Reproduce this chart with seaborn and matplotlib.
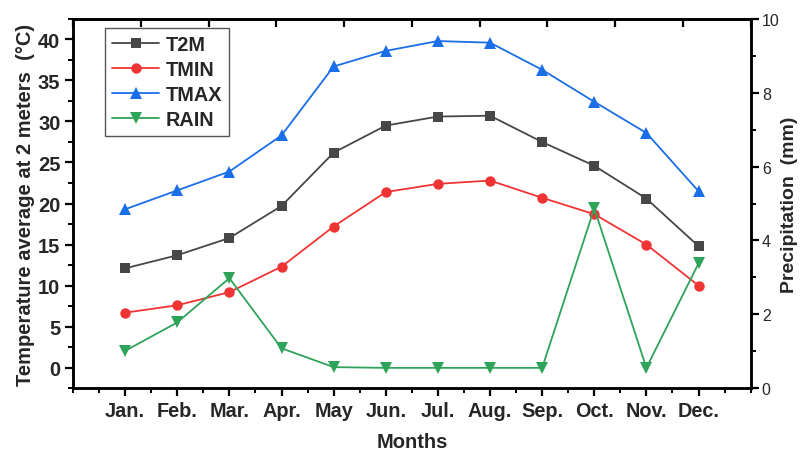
import matplotlib
matplotlib.use("Agg")
import matplotlib.pyplot as plt
import seaborn as sns
import pandas as pd
from matplotlib.ticker import MultipleLocator, FixedLocator, NullFormatter

months = ["Jan.", "Feb.", "Mar.", "Apr.", "May", "Jun.", "Jul.", "Aug.", "Sep.", "Oct.", "Nov.", "Dec."]
t2m = [12.1, 13.7, 15.8, 19.7, 26.2, 29.5, 30.6, 30.7, 27.5, 24.6, 20.6, 14.8]
tmin = [6.7, 7.6, 9.2, 12.3, 17.2, 21.4, 22.4, 22.8, 20.7, 18.7, 15.0, 10.0]
tmax = [19.3, 21.6, 23.9, 28.3, 36.7, 38.6, 39.8, 39.6, 36.3, 32.4, 28.6, 21.5]
rain = [1.01, 1.78, 2.98, 1.08, 0.57, 0.55, 0.55, 0.55, 0.55, 4.87, 0.55, 3.38]

sns.set_theme(style="ticks")
plt.rcParams["font.family"] = ["Liberation Sans", "DejaVu Sans"]

idx = list(range(1, 13))
temp_df = pd.DataFrame({"m": idx * 3,
                        "val": t2m + tmin + tmax,
                        "series": ["T2M"] * 12 + ["TMIN"] * 12 + ["TMAX"] * 12})
rain_df = pd.DataFrame({"m": idx, "val": rain})

colors = {"T2M": "#474747", "TMIN": "#f03434", "TMAX": "#1a6ee6"}
markers = {"T2M": "s", "TMIN": "o", "TMAX": "^"}
msizes = {"T2M": 6.5, "TMIN": 7.5, "TMAX": 8}
rain_color = "#2ea35a"

fig = plt.figure(figsize=(8.02, 4.52), dpi=100)
ax = fig.add_axes([0.091, 0.139, 0.845, 0.817])

for name in ["T2M", "TMIN", "TMAX"]:
    sub = temp_df[temp_df["series"] == name]
    sns.lineplot(data=sub, x="m", y="val", ax=ax, color=colors[name], marker=markers[name],
                 markersize=msizes[name], markeredgewidth=0, linewidth=1.3, label=name, legend=False)

ax2 = ax.twinx()
sns.lineplot(data=rain_df, x="m", y="val", ax=ax2, color=rain_color, marker="v",
             markersize=8, markeredgewidth=0, linewidth=1.3, label="RAIN", legend=False)

ax.set_xlim(0, 13)
ax.set_ylim(-2.5, 42.5)
ax2.set_ylim(0, 10)

ax.xaxis.set_major_locator(FixedLocator(idx))
ax.set_xticklabels(months, fontweight="bold", fontsize=14.3)
ax.xaxis.set_minor_locator(MultipleLocator(0.5))
ax.yaxis.set_major_locator(MultipleLocator(5))
ax.yaxis.set_minor_locator(MultipleLocator(2.5))
for lab in ax.get_yticklabels():
    lab.set_fontweight("bold")
    lab.set_fontsize(14.5)

ax2.yaxis.set_major_locator(MultipleLocator(2))
ax2.yaxis.set_minor_locator(MultipleLocator(1))

for a in (ax, ax2):
    for s in a.spines.values():
        s.set_linewidth(1.8)
        s.set_color("black")
    a.tick_params(which="major", length=6, width=1.6, color="black", pad=3)
    a.tick_params(which="minor", length=3.5, width=1.4, color="black")
ax2.tick_params(axis="y", labelsize=11.5, pad=2)

ax.set_xlabel("Months", fontweight="bold", fontsize=14.5, labelpad=9)
ax.set_ylabel("Temperature average at 2 meters  (°C)", fontweight="bold", fontsize=14.5, labelpad=2)
ax2.set_ylabel("Precipitation  (mm)", fontweight="bold", fontsize=14, labelpad=1)
ax.grid(False)
ax2.grid(False)

# Top scale with inward ticks and no labels
top = ax.secondary_xaxis("top", functions=(lambda x: x * 10 / 13, lambda x: x * 13 / 10))
top.xaxis.set_major_locator(MultipleLocator(1))
top.xaxis.set_major_formatter(NullFormatter())
top.tick_params(direction="in", length=6, width=1.6, color="black")
top.spines["top"].set_linewidth(1.8)

h1, l1 = ax.get_legend_handles_labels()
h2, l2 = ax2.get_legend_handles_labels()
leg = ax.legend(h1 + h2, l1 + l2, loc="upper left", bbox_to_anchor=(0.047, 0.976),
                borderaxespad=0, frameon=True, fancybox=False, edgecolor="#555555", framealpha=1,
                prop={"weight": "bold", "size": 14.3}, handlelength=2.4,
                borderpad=0.35, labelspacing=0.3, handletextpad=0.3)
leg.get_frame().set_linewidth(1.0)

fig.savefig("out.png", dpi=100)
